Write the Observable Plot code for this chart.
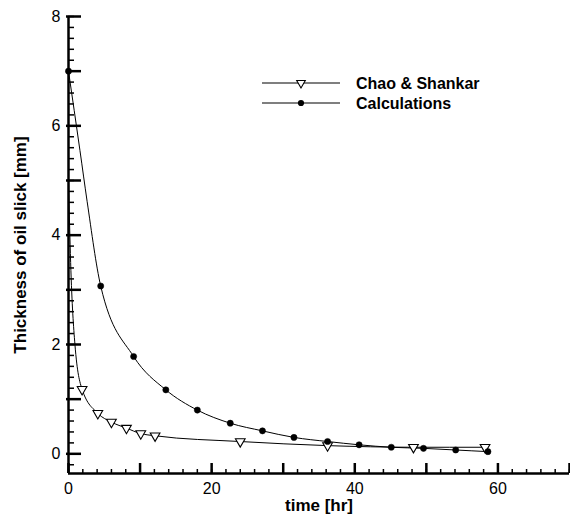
<!DOCTYPE html>
<html>
<head>
<meta charset="utf-8">
<script src="https://cdn.jsdelivr.net/npm/d3@7"></script>
<script src="https://cdn.jsdelivr.net/npm/@observablehq/plot@0.6"></script>
<style>
  body { margin: 0; background: #fff; }
  #wrap { position: relative; width: 570px; height: 523px; font-family: "Liberation Sans", Arial, sans-serif; }
  #legend { position: absolute; left: 258px; top: 72px; }
</style>
</head>
<body>
<div id="wrap"></div>
<script>
// ---- data ----
const seriesNames = ["Chao & Shankar", "Calculations"];

// Chao & Shankar (open down-triangles); first three points are curve-only (no marker visible)
const chaoT = [0, 0.3, 0.9, 1.9, 4.1, 6.0, 8.1, 10.1, 12.1, 24.0, 36.2, 48.2, 58.2];
const chaoH = [5.0, 3.5, 2.0, 1.18, 0.74, 0.58, 0.47, 0.37, 0.33, 0.225, 0.15, 0.12, 0.12];
const chaoMarked = [false, false, false, true, true, true, true, true, true, true, true, true, true];

// Calculations (filled circles); points 2-3 are curve-only readings of the line
const calcT = [0, 1.6, 2.6, 4.5, 9.1, 13.6, 18.0, 22.6, 27.1, 31.5, 36.2, 40.6, 45.1, 49.6, 54.1, 58.6];
const calcH = [7.0, 5.55, 4.62, 3.07, 1.78, 1.17, 0.80, 0.56, 0.42, 0.30, 0.225, 0.165, 0.12, 0.10, 0.07, 0.04];
const calcMarked = [true, false, false, true, true, true, true, true, true, true, true, true, true, true, true, true];

const xDomain = [0, 70];
const yDomain = [-0.36, 8];
const xLabelTicks = [0, 20, 40, 60];
const yLabelTicks = [0, 2, 4, 6, 8];
const xMinorTicks = d3.range(0, 71, 2);
const xMajorTicks = d3.range(0, 71, 10);
const yMinorTicks = d3.range(-0.2, 8.01, 0.2).map(v => Math.round(v * 10) / 10);
const yMajorTicks = d3.range(0, 9, 1);

const xTitle = "time [hr]";
const yTitle = "Thickness of oil slick [mm]";

// ---- build tables ----
const chao = chaoT.map((t, i) => ({t, h: chaoH[i], marked: chaoMarked[i]}));
const calc = calcT.map((t, i) => ({t, h: calcH[i], marked: calcMarked[i]}));

const W = 570, H = 523;
const mL = 68, mR = 1, mT = 16, mB = 50;
const frameW = W - mL - mR, frameH = H - mT - mB;
const font = "Liberation Sans, Arial, sans-serif";

const chart = Plot.plot({
  width: W,
  height: H,
  marginLeft: mL,
  marginRight: mR,
  marginTop: mT,
  marginBottom: mB,
  style: {fontFamily: font, color: "#000", background: "#fff", overflow: "visible"},
  x: {domain: xDomain, axis: null},
  y: {domain: yDomain, axis: null},
  marks: [
    // axis lines
    Plot.ruleX([xDomain[0]], {stroke: "#000", strokeWidth: 2.5}),
    Plot.ruleY([yDomain[0]], {stroke: "#000", strokeWidth: 2.5}),
    // x ticks (inward)
    Plot.tickX(xMinorTicks, {x: d => d, stroke: "#000", strokeWidth: 1.5, insetTop: frameH - 4}),
    Plot.tickX(xMajorTicks, {x: d => d, stroke: "#000", strokeWidth: 2.5, insetTop: frameH - 10}),
    // y ticks (inward)
    Plot.tickY(yMinorTicks, {y: d => d, stroke: "#000", strokeWidth: 1.5, insetRight: frameW - 6}),
    Plot.tickY(yMajorTicks, {y: d => d, stroke: "#000", strokeWidth: 2.5, insetRight: frameW - 13, insetLeft: -2}),
    // tick labels
    Plot.axisX({ticks: xLabelTicks, tickSize: 0, tickPadding: 9, fontSize: 16, label: null}),
    Plot.axisY({ticks: yLabelTicks, tickSize: 0, tickPadding: 8, fontSize: 16, label: null}),
    // titles
    Plot.text([xTitle], {frameAnchor: "bottom", textAnchor: "middle", dy: 37, fontSize: 17, fontWeight: "bold", fill: "#000"}),
    Plot.text([yTitle], {frameAnchor: "left", textAnchor: "middle", dx: -48, rotate: -90, fontSize: 17, fontWeight: "bold", fill: "#000"}),
    // series lines
    Plot.line(chao, {x: "t", y: "h", curve: "monotone-x", stroke: "#000", strokeWidth: 1}),
    Plot.line(calc, {x: "t", y: "h", curve: "monotone-x", stroke: "#000", strokeWidth: 1}),
    // markers
    Plot.dot(chao.filter(d => d.marked), {x: "t", y: "h", symbol: "triangle", rotate: 180, r: 3.6, stroke: "#000", strokeWidth: 1.1, fill: "#fff"}),
    Plot.dot(calc.filter(d => d.marked), {x: "t", y: "h", symbol: "circle", r: 3.1, fill: "#000", stroke: "#000", strokeWidth: 0.5})
  ]
});

const wrap = document.getElementById("wrap");
wrap.appendChild(chart);

// legend (overlay)
const lg = d3.select(wrap).append("svg")
  .attr("id", "legend").attr("width", 260).attr("height", 45);
const rows = [
  {name: seriesNames[0], sym: "tri"},
  {name: seriesNames[1], sym: "dot"}
];
rows.forEach((r, i) => {
  const y = 11 + i * 20;
  lg.append("line").attr("x1", 4).attr("x2", 82).attr("y1", y).attr("y2", y)
    .attr("stroke", "#000").attr("stroke-width", 1.2);
  if (r.sym === "dot") {
    lg.append("circle").attr("cx", 43).attr("cy", y).attr("r", 3.1).attr("fill", "#000");
  } else {
    lg.append("path").attr("d", d3.symbol(d3.symbolTriangle, 32)()).attr("transform", `translate(43,${y}) rotate(180)`)
      .attr("fill", "#fff").attr("stroke", "#000").attr("stroke-width", 1.1);
  }
  lg.append("text").attr("x", 98).attr("y", y).attr("dy", "0.36em")
    .attr("font-family", font).attr("font-weight", "bold").attr("font-size", 16)
    .attr("fill", "#000").text(r.name);
});
</script>
</body>
</html>
